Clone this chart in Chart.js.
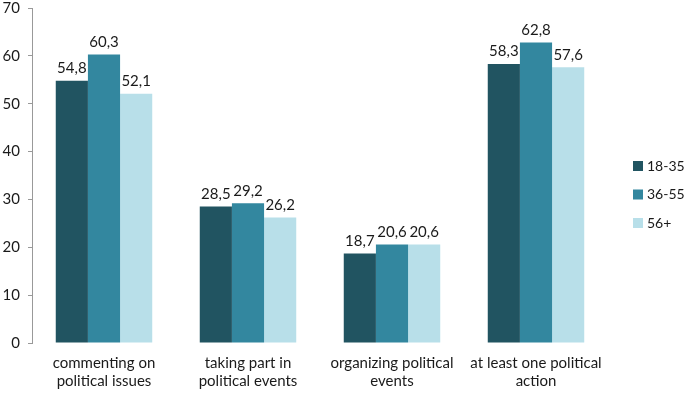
<!DOCTYPE html>
<html lang="en">
<head>
  <meta charset="UTF-8" />
  <title>Political actions by age group</title>
  <script src="https://cdn.jsdelivr.net/npm/chart.js"></script>
  <style>
    html, body { margin: 0; padding: 0; background: #fff; }
    .chart-container { position: relative; width: 685px; height: 395px; }
  </style>
</head>
<body>
  <div class="chart-container">
    <canvas id="grafico"></canvas>
  </div>

  <script>
    const categorias = [
      ["commenting on", "political issues"],
      ["taking part in", "political events"],
      ["organizing political", "events"],
      ["at least one political", "action"]
    ];
    const grupos = ["18-35", "36-55", "56+"];
    const valores1835 = [54.8, 28.5, 18.7, 58.3];
    const valores3655 = [60.3, 29.2, 20.6, 62.8];
    const valores56 = [52.1, 26.2, 20.6, 57.6];
    const cores = ["#215461", "#33879f", "#b8dfe9"];

    const fonte = "Lato, 'Noto Sans', sans-serif";

    // rótulos em cima de cada barra
    const rotulosBarras = {
      id: "rotulosBarras",
      afterDatasetsDraw(chart) {
        const ctx = chart.ctx;
        ctx.save();
        ctx.font = "15px " + fonte;
        ctx.fillStyle = "#1a1a1a";
        ctx.textAlign = "center";
        ctx.textBaseline = "bottom";
        chart.data.datasets.forEach(function (ds, i) {
          const meta = chart.getDatasetMeta(i);
          meta.data.forEach(function (bar, j) {
            const txt = ds.data[j].toFixed(1).replace(".", ",");
            ctx.fillText(txt, bar.x, bar.y - 5);
          });
        });
        ctx.restore();
      }
    };

    // legenda desenhada à mão à direita
    const legendaLateral = {
      id: "legendaLateral",
      afterDraw(chart) {
        const ctx = chart.ctx;
        const x = chart.chartArea.right + 25;
        ctx.save();
        ctx.font = "14px " + fonte;
        ctx.textBaseline = "middle";
        ctx.textAlign = "left";
        chart.data.datasets.forEach(function (ds, i) {
          const y = 166 + i * 28.5;
          ctx.fillStyle = ds.backgroundColor;
          ctx.fillRect(x, y - 5, 10, 10);
          ctx.fillStyle = "#1a1a1a";
          ctx.fillText(ds.label, x + 14, y);
        });
        ctx.restore();
      }
    };

    const ctx = document.getElementById("grafico").getContext("2d");
    new Chart(ctx, {
      type: "bar",
      data: {
        labels: categorias,
        datasets: [
          { label: grupos[0], data: valores1835, backgroundColor: cores[0] },
          { label: grupos[1], data: valores3655, backgroundColor: cores[1] },
          { label: grupos[2], data: valores56, backgroundColor: cores[2] }
        ]
      },
      plugins: [rotulosBarras, legendaLateral],
      options: {
        responsive: true,
        maintainAspectRatio: false,
        animation: false,
        categoryPercentage: 0.67,
        barPercentage: 1,
        layout: { padding: { top: 8, left: 0, right: 77, bottom: 0 } },
        plugins: {
          tooltip: { enabled: false },
          legend: { display: false }
        },
        scales: {
          x: {
            grid: { display: false },
            border: { display: false },
            afterFit(scale) { scale.height = 52; },
            ticks: {
              color: "#1a1a1a",
              font: { family: fonte, size: 15 },
              maxRotation: 0,
              autoSkip: false
            }
          },
          y: {
            min: 0,
            max: 70,
            afterFit(scale) {
              scale.width = 32;
              scale.paddingTop = 0;
              scale.paddingBottom = 0;
            },
            grid: {
              drawOnChartArea: false,
              drawTicks: true,
              tickLength: 4,
              color: "#999"
            },
            border: { display: true, color: "#999" },
            ticks: {
              stepSize: 10,
              padding: 8,
              color: "#1a1a1a",
              font: { family: fonte, size: 15 }
            }
          }
        }
      }
    });
  </script>
</body>
</html>
